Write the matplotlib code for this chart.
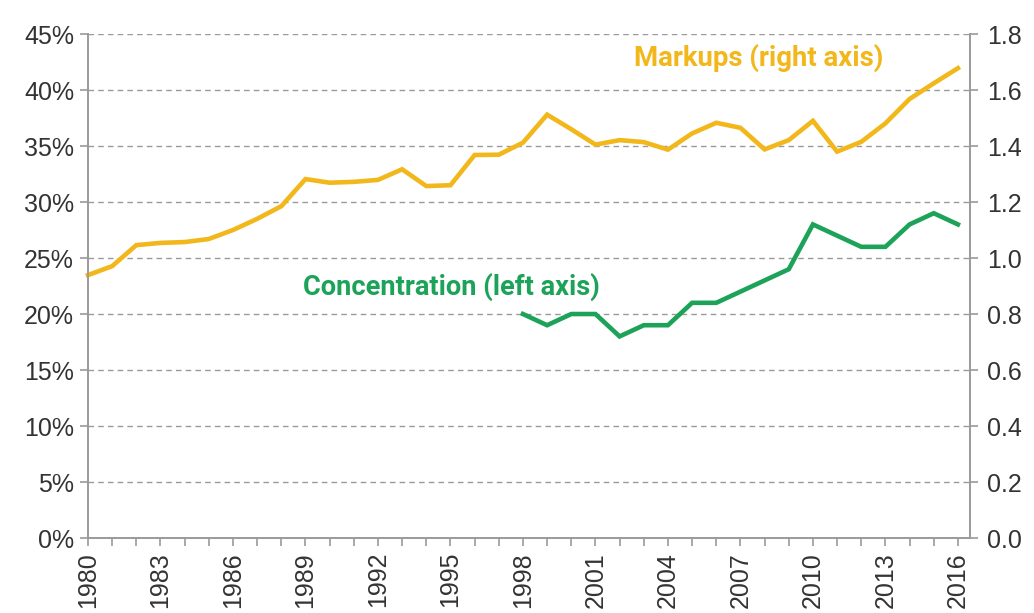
#!/usr/bin/env python3
"""Markups vs. concentration, dual axis line chart."""

import matplotlib
matplotlib.use('Agg')
import matplotlib.pyplot as plt
from matplotlib.ticker import FuncFormatter, MultipleLocator

# Markups (right axis), 1980-2016
markup_years = list(range(1980, 2017))
markups = [0.939, 0.971, 1.046, 1.054, 1.057, 1.068, 1.100, 1.140, 1.185,
           1.282, 1.269, 1.272, 1.279, 1.317, 1.257, 1.260, 1.368, 1.369,
           1.412, 1.512, 1.460, 1.405, 1.421, 1.414, 1.387, 1.445, 1.483,
           1.465, 1.388, 1.421, 1.490, 1.380, 1.415, 1.481, 1.568, 1.624,
           1.678]

# Concentration (left axis, %), 1998-2016
conc_years = list(range(1998, 2017))
concentration = [20, 19, 20, 20, 18, 19, 19, 21, 21, 22, 23, 24, 28, 27, 26,
                 26, 28, 29, 28]

major_years = list(range(1980, 2017, 3))

YELLOW = '#F2B71B'
GREEN = '#1DA359'
GRID = '#9a9a9a'
TEXT = '#333333'

plt.rcParams['font.family'] = ['Liberation Sans', 'DejaVu Sans']

fig = plt.figure(figsize=(10.34, 6.13), dpi=100)
ax = fig.add_axes([0.0851, 0.1223, 0.8530, 0.8222])
ax2 = ax.twinx()

ax.set_xlim(1980, 2016.5)
ax.set_ylim(0, 45)
ax2.set_ylim(0, 1.8)

ax.yaxis.set_major_locator(MultipleLocator(5))
ax.yaxis.set_major_formatter(FuncFormatter(lambda v, p: f'{v:.0f}%'))
ax2.yaxis.set_major_locator(MultipleLocator(0.2))
ax2.yaxis.set_major_formatter(FuncFormatter(lambda v, p: f'{v:.1f}'))

ax.set_xticks(major_years)
ax.set_xticklabels([str(y) for y in major_years], rotation=90)
ax.set_xticks(markup_years, minor=True)

ax.grid(True, axis='y', linestyle=(0, (4, 3)), color=GRID, linewidth=1)
ax.set_axisbelow(True)

for a in (ax, ax2):
    a.spines['top'].set_visible(False)
    for s in ('left', 'right', 'bottom'):
        a.spines[s].set_color(GRID)
        a.spines[s].set_linewidth(1.2)
    a.tick_params(axis='both', which='both', colors=GRID, labelcolor=TEXT,
                  labelsize=18, length=6, width=1.2, direction='out')
ax.tick_params(axis='x', which='major', pad=4)
ax.tick_params(axis='y', pad=4)
ax2.tick_params(axis='y', pad=6)

ax2.plot(markup_years, markups, color=YELLOW, linewidth=3.3,
         solid_joinstyle='miter', clip_on=False)
ax.plot(conc_years, concentration, color=GREEN, linewidth=3.3,
        solid_joinstyle='miter', clip_on=False)

ax2.text(2012.9, 1.714, 'Markups (right axis)', color=YELLOW, fontsize=19.8,
         fontweight='bold', family=['Roboto', 'DejaVu Sans'],
         ha='right', va='center')
ax.text(1988.9, 22.4, 'Concentration (left axis)', color=GREEN, fontsize=19.6,
        fontweight='bold', family=['Roboto', 'DejaVu Sans'],
        ha='left', va='center')

fig.savefig('out.png', dpi=100)
